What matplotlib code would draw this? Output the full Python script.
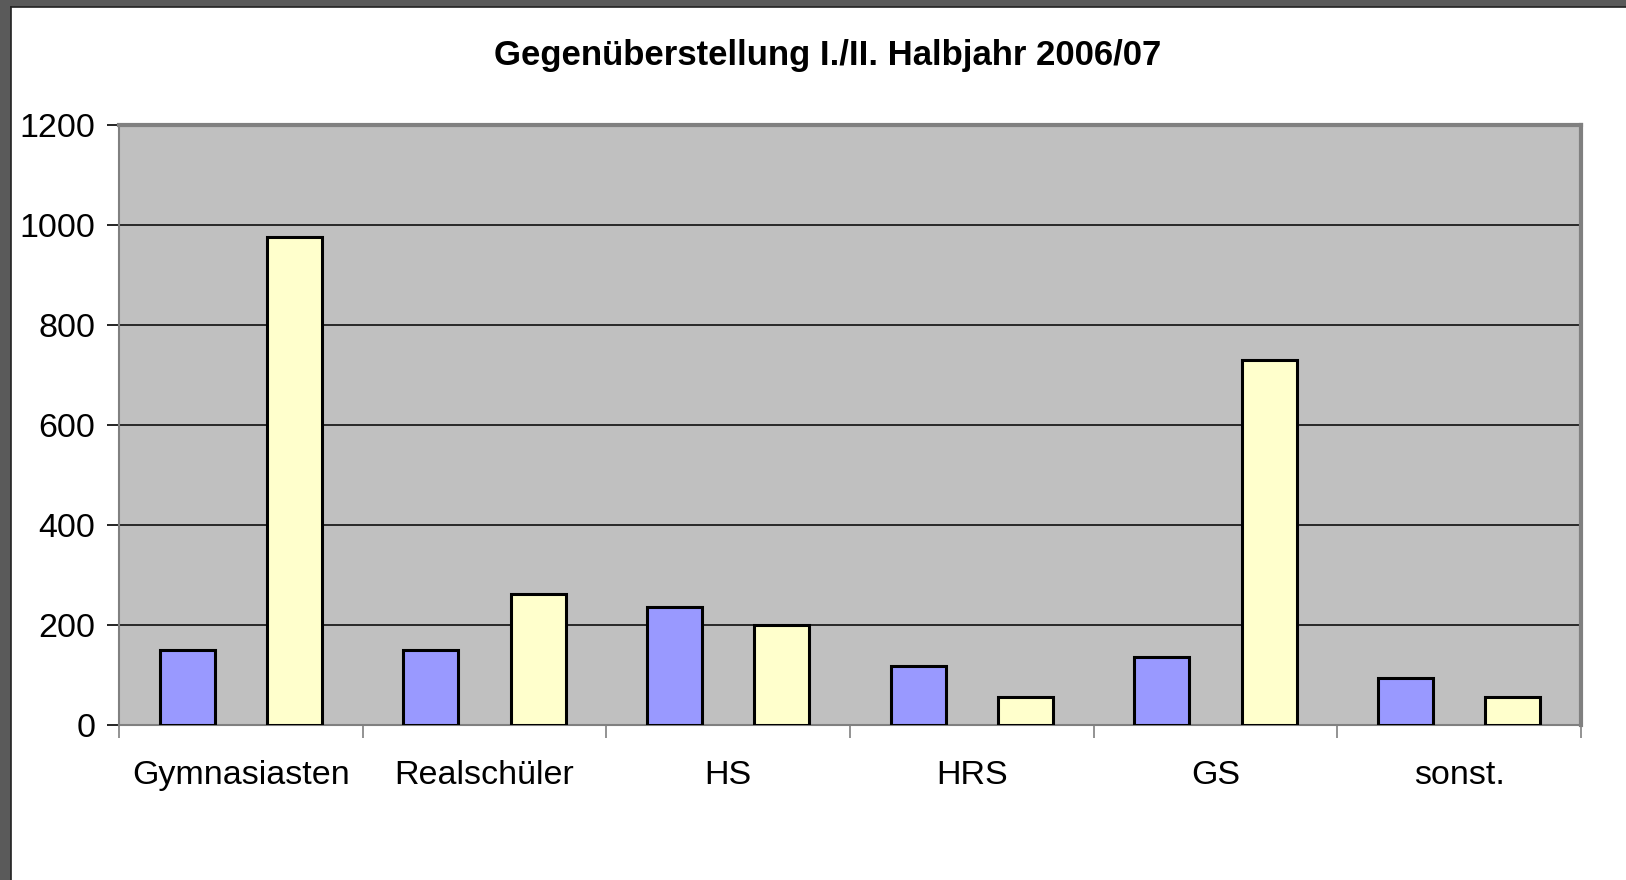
import matplotlib
matplotlib.use("Agg")
import matplotlib.pyplot as plt
import numpy as np
from matplotlib.patches import Rectangle

categories = ["Gymnasiasten", "Realschüler", "HS", "HRS", "GS", "sonst."]
halbjahr1 = [150, 150, 237, 119, 137, 94]
halbjahr2 = [975, 262, 200, 56, 730, 57]
yticks = [0, 200, 400, 600, 800, 1000, 1200]
title = "Gegenüberstellung I./II. Halbjahr 2006/07"

plt.rcParams['font.family'] = ['Liberation Sans', 'DejaVu Sans']

W, H = 1626, 880
fig = plt.figure(figsize=(W / 100, H / 100), dpi=100)
fig.patch.set_facecolor("white")

# window frame (dark band at left and top)
fig.add_artist(Rectangle((0, 1 - 7 / H), 1, 7 / H, transform=fig.transFigure,
                         facecolor="#5a5a5a", edgecolor="none", zorder=0))
fig.add_artist(Rectangle((0, 0), 11 / W, 1, transform=fig.transFigure,
                         facecolor="#5a5a5a", edgecolor="none", zorder=0))
fig.add_artist(plt.Line2D([11 / W, 11 / W], [0, 1 - 7 / H], transform=fig.transFigure,
                          color="#222222", lw=1.2))
fig.add_artist(plt.Line2D([11 / W, 1], [1 - 7 / H, 1 - 7 / H], transform=fig.transFigure,
                          color="#222222", lw=1.2))

left, right, top, bottom = 119, 1581, 125, 725
ax = fig.add_axes([left / W, 1 - bottom / H, (right - left) / W, (bottom - top) / H])
ax.set_facecolor("#C0C0C0")

x = np.arange(len(categories))
bw = 0.225
ax.bar(x - 0.22, halbjahr1, width=bw, color="#9999FF", edgecolor="black", linewidth=2.2, zorder=3)
ax.bar(x + 0.22, halbjahr2, width=bw, color="#FFFFCC", edgecolor="black", linewidth=2.2, zorder=3)

ax.set_xlim(-0.5, len(categories) - 0.5)
ax.set_ylim(0, 1200)
ax.set_yticks(yticks)
ax.set_yticklabels([str(v) for v in yticks], fontsize=24.5)
ax.yaxis.grid(True, color="black", linewidth=1.1, zorder=1)
ax.set_axisbelow(True)

ax.set_xticks(np.arange(len(categories) + 1) - 0.5)
ax.set_xticklabels([])
ax.set_xticks(x, minor=True)
ax.set_xticklabels(categories, minor=True, fontsize=24.5)
ax.tick_params(axis="x", which="major", direction="out", length=9, width=1.2, color="#808080")
ax.tick_params(axis="x", which="minor", length=0, pad=25)
ax.tick_params(axis="y", direction="out", length=9, width=1.2, color="black", pad=8)

for s in ["top", "right"]:
    ax.spines[s].set_color("#808080")
    ax.spines[s].set_linewidth(3)
for s in ["left", "bottom"]:
    ax.spines[s].set_color("#808080")
    ax.spines[s].set_linewidth(1.5)

fig.text(828 / W, 1 - 55 / H, title, ha="center", va="center",
         fontsize=25, fontweight="bold")

fig.savefig("out.png", dpi=100)
